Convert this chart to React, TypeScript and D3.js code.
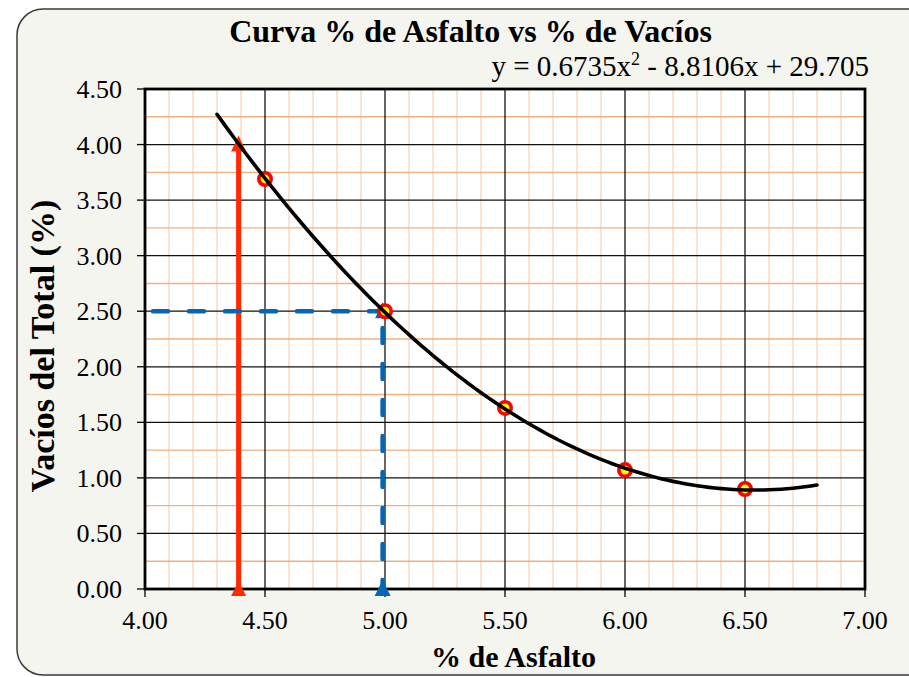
import React from "react";
import * as d3 from "d3";

// ---- data ----
const asphaltPct = [4.5, 5.0, 5.5, 6.0, 6.5];
const voidsPct = [3.69, 2.5, 1.63, 1.07, 0.9];
// trendline y = a x^2 + b x + c (as printed on chart)
const trendCoeffs = [0.6735, -8.8106, 29.705];
const trendRange = [4.3, 6.8];
const xTickValues = [4.0, 4.5, 5.0, 5.5, 6.0, 6.5, 7.0];
const yTickValues = [0, 0.5, 1.0, 1.5, 2.0, 2.5, 3.0, 3.5, 4.0, 4.5];
const redGuideX = 4.39;
const redGuideTop = 4.0;
const blueGuideX = 4.99;
const blueGuideY = 2.5;
const titleText = "Curva % de Asfalto vs % de Vacíos";
const xTitle = "% de Asfalto";
const yTitle = "Vacíos del Total (%)";

const W = 909;
const H = 677;
const L = 145, R = 865, T = 89, B = 589;
const FONT = "'Liberation Serif', 'Times New Roman', serif";

export default function App() {
  const x = d3.scaleLinear().domain([4, 7]).range([L, R]);
  const y = d3.scaleLinear().domain([0, 4.5]).range([B, T]);

  const xMinor = d3.range(40, 71).map((v) => v / 10).filter((v) => Math.round(v * 10) % 5 !== 0);
  const yMinor = d3.range(0, 19).map((v) => v / 4).filter((v) => (v * 4) % 2 === 1);

  const [a, b, c] = trendCoeffs;
  const trendXs = d3.range(0, 101).map((i) => trendRange[0] + (i / 100) * (trendRange[1] - trendRange[0]));
  const curve = d3
    .line<number>()
    .x((d) => x(d))
    .y((d) => y(a * d * d + b * d + c))
    .curve(d3.curveLinear)(trendXs) as string;

  const tri = (cx: number, apexY: number, baseY: number, hw: number) =>
    `M${cx},${apexY}L${cx + hw},${baseY}L${cx - hw},${baseY}Z`;

  const red = "#FF2A00";
  const blue = "#0566B5";

  return (
    <svg width={W} height={H} style={{ position: "absolute", left: 0, top: 0 }} fontFamily={FONT}>
      <rect x={0} y={0} width={W} height={H} fill="#ffffff" />
      <rect x={17} y={9} width={W + 40} height={666} rx={26} ry={26} fill="#F5F5EF" stroke="#3a3a3a" strokeWidth={1.5} />

      {/* plot area */}
      <rect x={L} y={T} width={R - L} height={B - T} fill="#ffffff" />

      {/* minor grid */}
      {xMinor.map((v) => (
        <line key={"xm" + v} x1={x(v)} x2={x(v)} y1={T} y2={B} stroke="#F7C7A1" strokeWidth={1} />
      ))}
      {yMinor.map((v) => (
        <line key={"ym" + v} x1={L} x2={R} y1={y(v)} y2={y(v)} stroke="#F4B07E" strokeWidth={1.4} />
      ))}
      {/* major grid */}
      {xTickValues.map((v) => (
        <line key={"xM" + v} x1={x(v)} x2={x(v)} y1={T} y2={B} stroke="#000" strokeWidth={1.2} />
      ))}
      {yTickValues.map((v) => (
        <line key={"yM" + v} x1={L} x2={R} y1={y(v)} y2={y(v)} stroke="#111" strokeWidth={1.2} />
      ))}

      {/* ticks */}
      {yTickValues.map((v) => (
        <line key={"yt" + v} x1={L - 8} x2={L} y1={y(v)} y2={y(v)} stroke="#000" strokeWidth={1.3} />
      ))}
      {xTickValues.map((v) => (
        <line key={"xt" + v} x1={x(v)} x2={x(v)} y1={B} y2={B + 8} stroke="#000" strokeWidth={1.3} />
      ))}

      {/* frame */}
      <rect x={L} y={T} width={R - L} height={B - T} fill="none" stroke="#000" strokeWidth={2.8} />

      {/* red guide */}
      <line x1={x(redGuideX)} x2={x(redGuideX)} y1={y(0)} y2={y(redGuideTop)} stroke={red} strokeWidth={5} />
      <path d={tri(x(redGuideX), y(redGuideTop) - 9, y(redGuideTop) + 7, 7.5)} fill={red} />
      <path d={tri(x(redGuideX), y(0) - 8, y(0) + 7, 7.5)} fill={red} />

      {/* blue guide */}
      <line
        x1={x(4.0)} x2={x(blueGuideX)} y1={y(blueGuideY)} y2={y(blueGuideY)}
        stroke={blue} strokeWidth={4.5} strokeLinecap="round" strokeDasharray="15 21" strokeDashoffset={28}
      />
      <line
        x1={x(blueGuideX)} x2={x(blueGuideX)} y1={y(0)} y2={y(blueGuideY)}
        stroke={blue} strokeWidth={4.5} strokeLinecap="round" strokeDasharray="15 21" strokeDashoffset={6}
      />
      <path d={tri(x(blueGuideX), y(blueGuideY) - 9, y(blueGuideY) + 7, 7.5)} fill={blue} />
      <path d={tri(x(blueGuideX), y(0) - 9, y(0) + 7, 8)} fill={blue} />

      {/* markers */}
      {asphaltPct.map((v, i) => (
        <circle key={"p" + i} cx={x(v)} cy={y(voidsPct[i])} r={6.2} fill="#FFFF00" stroke="#FF0000" strokeWidth={3.6} />
      ))}

      {/* trendline */}
      <path d={curve} fill="none" stroke="#000" strokeWidth={3.6} strokeLinecap="round" />

      {/* tick labels */}
      {yTickValues.map((v) => (
        <text key={"yl" + v} x={122} y={y(v) + 9} textAnchor="end" fontSize={26} fill="#000">
          {v.toFixed(2)}
        </text>
      ))}
      {xTickValues.map((v) => (
        <text key={"xl" + v} x={x(v)} y={629} textAnchor="middle" fontSize={26} fill="#000">
          {v.toFixed(2)}
        </text>
      ))}

      {/* titles */}
      <text x={470.5} y={42} textAnchor="middle" fontSize={32} fontWeight="bold" fill="#000">
        {titleText}
      </text>
      <text x={869} y={76} textAnchor="end" fontSize={29} fill="#000">
        y = 0.6735x<tspan fontSize={18} dy={-11}>2</tspan>
        <tspan dy={11}> - 8.8106x + 29.705</tspan>
      </text>
      <text x={513.5} y={667} textAnchor="middle" fontSize={30} fontWeight="bold" fill="#000">
        {xTitle}
      </text>
      <text
        transform={`translate(54,346) rotate(-90)`}
        textAnchor="middle" fontSize={34} fontWeight="bold" fill="#000"
      >
        {yTitle}
      </text>
    </svg>
  );
}
